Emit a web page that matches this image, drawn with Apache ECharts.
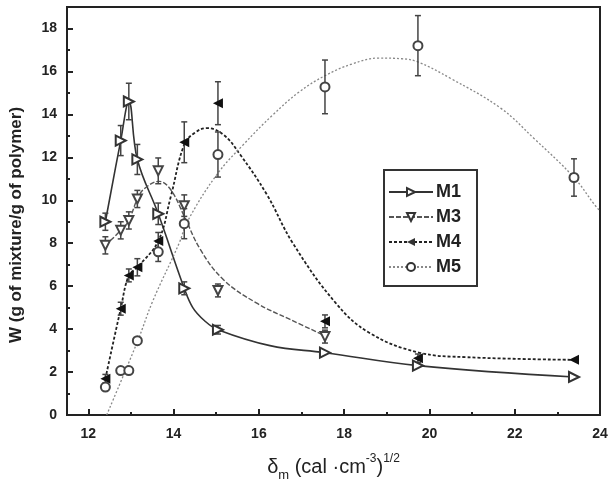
<!DOCTYPE html>
<html>
<head>
<meta charset="utf-8">
<script src="https://cdn.jsdelivr.net/npm/echarts@6/dist/echarts.min.js"></script>
<style>
  html, body { margin: 0; padding: 0; background: #fff; }
  #chart { width: 614px; height: 487px; }
</style>
</head>
<body>
<div id="chart"></div>
<script>
// measured points (shared solvent compositions)
const xs = [12.4, 12.76, 12.95, 13.15, 13.64, 14.25, 15.04, 17.55, 19.73, 23.39];

const m1Y = [9.0, 12.78, 14.6, 11.9, 9.37, 5.9, 3.97, 2.9, 2.3, 1.77];
const m1Err = [0.4, 0.7, 0.85, 0.7, 0.5, 0.3, 0.2, 0, 0, 0];
const m3X = [12.4, 12.76, 12.95, 13.15, 13.64, 14.25, 15.04, 17.55];
const m3Y = [7.9, 8.6, 9.06, 10.06, 11.37, 9.75, 5.8, 3.65];
const m3Err = [0.4, 0.4, 0.4, 0.4, 0.6, 0.5, 0.3, 0.3];
const m4Y = [1.69, 4.95, 6.5, 6.88, 8.1, 12.7, 14.52, 4.36, 2.64, 2.57];
const m4Err = [0.2, 0.3, 0.3, 0.4, 0.4, 0.95, 1.0, 0.3, 0.2, 0];
const m5Y = [1.3, 2.07, 2.07, 3.46, 7.6, 8.91, 12.13, 15.28, 17.2, 11.06];
const m5Err = [0, 0, 0, 0, 0.45, 0.7, 1.05, 1.25, 1.4, 0.87];

// fitted curves as drawn in the figure
const m1CurveX = [12.4, 12.76, 12.95, 13.15, 13.64, 14.25, 14.45, 14.72, 15.04, 16.26, 17.55, 19.73, 23.39];
const m1CurveY = [9.0, 12.78, 14.6, 11.9, 9.37, 5.9, 5.0, 4.4, 3.97, 3.23, 2.9, 2.3, 1.77];
const m3CurveX = [12.4, 12.76, 12.95, 13.15, 13.32, 13.66, 13.93, 14.24, 14.63, 15.17, 15.94, 16.72, 17.55];
const m3CurveY = [7.9, 8.6, 9.06, 10.06, 10.55, 10.88, 10.5, 9.3, 7.7, 6.3, 5.22, 4.46, 3.69];
const m4CurveX = [12.4, 12.76, 12.95, 13.15, 13.64, 13.93, 14.25, 14.5, 14.78, 15.17, 15.56, 16.18, 16.8, 17.8, 18.58, 19.73, 20.9, 23.39];
const m4CurveY = [1.69, 4.95, 6.5, 6.88, 8.1, 10.14, 12.6, 13.15, 13.36, 13.05, 12.13, 10.29, 7.99, 5.22, 3.84, 2.92, 2.69, 2.57];
const m5CurveX = [12.43, 13.16, 13.51, 14.13, 14.32, 15.02, 15.64, 16.33, 16.95, 17.55, 18.19, 18.81, 19.35, 19.73, 20.5, 21.67, 22.44, 23.39, 23.87, 24];
const m5CurveY = [0, 3.46, 5.3, 8.0, 9.0, 11.21, 12.6, 13.98, 15.05, 15.8, 16.35, 16.62, 16.59, 16.44, 15.67, 14.29, 12.9, 11.06, 9.8, 9.5];

const xMajor = [12, 14, 16, 18, 20, 22, 24];
const xMinor = [13, 15, 17, 19, 21, 23];
const yMajor = [0, 2, 4, 6, 8, 10, 12, 14, 16, 18];
const yMinor = [1, 3, 5, 7, 9, 11, 13, 15, 17];

const chart = echarts.init(document.getElementById('chart'));
const ink = '#222';
const font = 'Liberation Sans, Arial, sans-serif';

function pairs(x, y) { return x.map((v, i) => [v, y[i]]); }

function errBars(x, y, e) {
  const d = [];
  x.forEach((v, i) => { if (e[i] > 0) d.push([v, y[i] - e[i], y[i] + e[i]]); });
  return {
    type: 'custom', silent: true, z: 2,
    data: d,
    renderItem(params, api) {
      const lo = api.coord([api.value(0), api.value(1)]);
      const hi = api.coord([api.value(0), api.value(2)]);
      const st = { stroke: '#444', lineWidth: 1.5 };
      return {
        type: 'group', children: [
          { type: 'line', shape: { x1: lo[0], y1: lo[1], x2: hi[0], y2: hi[1] }, style: st },
          { type: 'line', shape: { x1: lo[0] - 3, y1: lo[1], x2: lo[0] + 3, y2: lo[1] }, style: st },
          { type: 'line', shape: { x1: hi[0] - 3, y1: hi[1], x2: hi[0] + 3, y2: hi[1] }, style: st }
        ]
      };
    }
  };
}

function curve(name, x, y, sym, rot, lineStyle) {
  return {
    name: name, type: 'line', smooth: 0.4, showSymbol: false,
    symbol: sym, symbolRotate: rot, symbolSize: 9,
    color: '#333', z: 1,
    lineStyle: lineStyle,
    data: pairs(x, y)
  };
}

function points(name, x, y, sym, rot, size, color) {
  return {
    name: name, type: 'scatter', symbol: sym, symbolRotate: rot, symbolSize: size,
    itemStyle: { color: color, borderWidth: 1.5, opacity: 1 }, z: 3,
    data: pairs(x, y)
  };
}

const option = {
  animation: false,
  backgroundColor: '#fff',
  textStyle: { fontFamily: font },
  grid: { left: 62, right: 14, top: 7, bottom: 67, show: true, borderColor: ink, borderWidth: 2, backgroundColor: 'transparent' },
  legend: {
    data: ['M1', 'M3', 'M4', 'M5'],
    orient: 'vertical', left: 384, top: 170,
    itemWidth: 44, itemHeight: 10, itemGap: 7,
    padding: [13, 16, 10, 4],
    borderColor: '#333', borderWidth: 2, backgroundColor: '#fff',
    textStyle: { fontWeight: 'bold', fontSize: 18, color: ink, fontFamily: font, padding: [0, 0, 0, -2] }
  },
  xAxis: [{
    type: 'value', min: 11.5, max: 24,
    name: '{d|δ}{s|m}{t| (cal ·cm}{p|-3}{t|)}{p|1/2}',
    nameLocation: 'middle', nameGap: 38,
    nameTextStyle: {
      rich: {
        d: { fontSize: 20, color: ink, fontFamily: font, lineHeight: 24, verticalAlign: 'bottom' },
        t: { fontSize: 20, color: ink, fontFamily: font, lineHeight: 24, verticalAlign: 'bottom' },
        s: { fontSize: 13, color: ink, fontFamily: font, verticalAlign: 'bottom', lineHeight: 13, padding: [0, 0, -5, 0] },
        p: { fontSize: 12, color: ink, fontFamily: font, verticalAlign: 'top', lineHeight: 12 }
      }
    },
    axisLine: { onZero: false, lineStyle: { color: ink, width: 2 } },
    axisTick: { inside: true, length: 6, customValues: xMajor, lineStyle: { color: ink, width: 2 } },
    axisLabel: { customValues: xMajor, margin: 12, fontWeight: 'bold', fontSize: 14, color: ink, fontFamily: font },
    splitLine: { show: false }
  }, {
    type: 'value', min: 11.5, max: 24, position: 'bottom',
    axisLine: { show: false },
    axisTick: { inside: true, length: 3, customValues: xMinor, lineStyle: { color: ink, width: 2 } },
    axisLabel: { show: false },
    splitLine: { show: false }
  }],
  yAxis: [{
    type: 'value', min: 0, max: 19,
    name: 'W (g of mixture/g of polymer)',
    nameLocation: 'middle', nameGap: 42,
    nameTextStyle: { fontWeight: 'bold', fontSize: 17, color: ink, fontFamily: font, padding: [0, 28, 0, 0] },
    axisLine: { onZero: false, lineStyle: { color: ink, width: 2 } },
    axisTick: { inside: true, length: 6, customValues: yMajor, lineStyle: { color: ink, width: 2 } },
    axisLabel: { customValues: yMajor, margin: 10, fontWeight: 'bold', fontSize: 14, color: ink, fontFamily: font },
    splitLine: { show: false }
  }, {
    type: 'value', min: 0, max: 19, position: 'left',
    axisLine: { show: false },
    axisTick: { inside: true, length: 3, customValues: yMinor, lineStyle: { color: ink, width: 2 } },
    axisLabel: { show: false },
    splitLine: { show: false }
  }],
  series: [
    curve('M1', m1CurveX, m1CurveY, 'emptyTriangle', -90, { color: '#333', width: 1.6, type: 'solid' }),
    curve('M3', m3CurveX, m3CurveY, 'emptyTriangle', 180, { color: '#555', width: 1.4, type: [5, 2] }),
    curve('M4', m4CurveX, m4CurveY, 'triangle', 90, { color: '#222', width: 1.8, type: [3, 2] }),
    curve('M5', m5CurveX, m5CurveY, 'emptyCircle', 0, { color: '#888', width: 1.3, type: [2, 2] }),
    errBars(xs, m1Y, m1Err),
    errBars(m3X, m3Y, m3Err),
    errBars(xs, m4Y, m4Err),
    errBars(xs, m5Y, m5Err),
    points('M1 data', xs, m1Y, 'emptyTriangle', -90, 10, '#333'),
    points('M3 data', m3X, m3Y, 'emptyTriangle', 180, 9, '#444'),
    points('M4 data', xs, m4Y, 'triangle', 90, 10, '#111'),
    points('M5 data', xs, m5Y, 'emptyCircle', 0, 9, '#444')
  ]
};

chart.setOption(option);
</script>
</body>
</html>
